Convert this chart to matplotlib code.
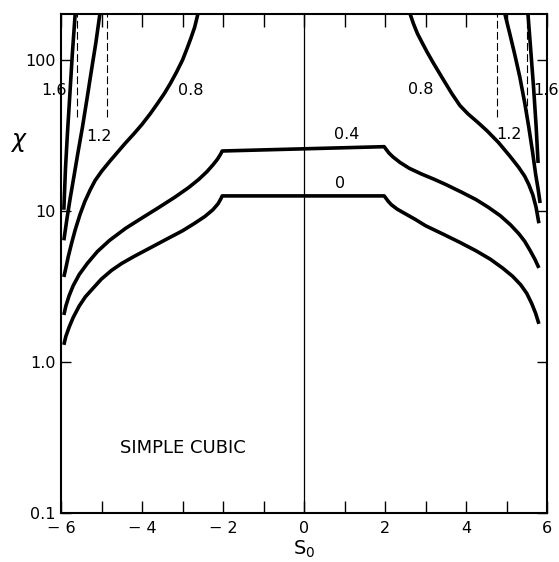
import numpy as np
import matplotlib
matplotlib.use("Agg")
import matplotlib.pyplot as plt

# curve "0" (one piece, flat top between -2 and 2)
s_0 = [-5.93, -5.88, -5.8, -5.7, -5.55, -5.4, -5.2, -5.0, -4.75, -4.5, -4.2, -3.8, -3.4, -3.0, -2.7,
       -2.45, -2.25, -2.12, -2.05, -2.02,
       1.98, 2.02, 2.08, 2.16, 2.3, 2.5, 2.75, 3.0, 3.45, 3.85, 4.25, 4.6, 4.9, 5.15, 5.35, 5.5,
       5.62, 5.72, 5.80]
chi_0 = [1.30, 1.48, 1.70, 1.97, 2.35, 2.7, 3.1, 3.55, 4.05, 4.5, 5.0, 5.7, 6.5, 7.4, 8.3,
         9.2, 10.2, 11.2, 12.1, 12.6,
         12.6, 12.2, 11.6, 11.0, 10.3, 9.6, 8.8, 8.0, 7.0, 6.2, 5.45, 4.8, 4.2, 3.7, 3.25, 2.85,
         2.45, 2.1, 1.79]

# curve "0.4"
s_04 = [-5.93, -5.88, -5.8, -5.7, -5.55, -5.35, -5.1, -4.8, -4.4, -4.0, -3.6, -3.2, -2.85, -2.6,
        -2.4, -2.25, -2.14, -2.06, -2.02,
        1.98, 2.02, 2.1, 2.2, 2.37, 2.6, 2.9, 3.2, 3.5, 3.9, 4.25, 4.55, 4.85, 5.1, 5.3, 5.45,
        5.58, 5.7, 5.80]
chi_04 = [2.05, 2.35, 2.75, 3.2, 3.8, 4.5, 5.4, 6.4, 7.7, 9.0, 10.5, 12.3, 14.3, 16.2,
          18.2, 20.2, 22.0, 23.8, 25.0,
          26.7, 25.8, 24.2, 22.8, 21.0, 19.2, 17.6, 16.3, 15.0, 13.3, 11.9, 10.6, 9.3, 8.1, 7.1, 6.3,
          5.5, 4.8, 4.2]

# curve "0.8" (two branches running off the top)
s_08_left = [-5.93, -5.88, -5.82, -5.74, -5.65, -5.53, -5.41, -5.28, -5.16, -5.0, -4.8, -4.6, -4.42,
             -4.2, -4.0, -3.8, -3.63, -3.45, -3.3, -3.15, -3.0, -2.9, -2.8, -2.7, -2.62]
chi_08_left = [3.66, 4.2, 5.0, 6.1, 7.5, 9.5, 11.6, 13.8, 15.9, 18.3, 21.3, 24.6, 28.0,
               32.5, 37.5, 44, 51, 60, 70, 83, 100, 117, 138, 165, 202]
s_08_right = [2.62, 2.7, 2.8, 2.92, 3.04, 3.2, 3.43, 3.65, 3.85, 4.05, 4.3, 4.52, 4.8, 5.09,
              5.3, 5.45, 5.55, 5.65, 5.73, 5.80]
chi_08_right = [202, 175, 150, 130, 113, 95, 75, 60, 50, 44, 38.5, 34, 28.5, 23,
                19.5, 17, 15, 12.8, 10.6, 8.3]

# curve "1.2"
s_12_left = [-5.04, -5.14, -5.25, -5.36, -5.47, -5.58, -5.68, -5.77, -5.85, -5.93]
chi_12_left = [202, 130, 85, 55, 36, 24.5, 17, 12.3, 9.0, 6.4]
s_12_right = [4.96, 5.08, 5.2, 5.33, 5.45, 5.55, 5.64, 5.72, 5.78, 5.83]
chi_12_right = [202, 150, 110, 77, 52, 36, 25, 17.5, 14, 11.3]

# curve "1.6"
s_16_left = [-5.65, -5.72, -5.78, -5.84, -5.89, -5.93]
chi_16_left = [202, 110, 60, 33, 19, 10.2]
s_16_right = [5.53, 5.6, 5.67, 5.73, 5.78]
chi_16_right = [202, 115, 65, 37, 20.8]

# dashed asymptotes
dash_s = [-5.60, -4.86, 4.77, 5.51]
dash_chi = [42, 202]

# curve labels: text, S0, chi
labels = [("1.6", -6.18, 63), ("1.6", 5.98, 63), ("1.2", -5.06, 31), ("1.2", 5.06, 32),
          ("0.8", -2.79, 63), ("0.8", 2.89, 64), ("0.4", 1.06, 32), ("0", 0.89, 15.3)]

fig = plt.figure(figsize=(5.59, 5.62), dpi=100)
ax = fig.add_axes([61/559, 1 - 513/562, (547 - 61)/559, (513 - 14)/562])

lw = 2.6
curves = [(s_0, chi_0), (s_04, chi_04),
          (s_08_left, chi_08_left), (s_08_right, chi_08_right),
          (s_12_left, chi_12_left), (s_12_right, chi_12_right),
          (s_16_left, chi_16_left), (s_16_right, chi_16_right)]
for s, c in curves:
    ax.plot(s, c, 'k-', lw=lw, solid_joinstyle='round', solid_capstyle='butt')

for x in dash_s:
    ax.plot([x, x], dash_chi, 'k', lw=0.8, dashes=(7, 3))

# thin vertical line at S0 = 0
ax.axvline(0, color='k', lw=0.9)

for txt, x, y in labels:
    ax.text(x, y, txt, fontsize=11.5, ha='center', va='center', clip_on=False)

ax.text(-2.99, 0.27, "SIMPLE CUBIC", fontsize=13, ha='center', va='center')

ax.set_yscale('log')
ax.set_xlim(-6, 6)
ax.set_ylim(0.1, 202)

ax.set_xticks(range(-6, 7))
ax.set_xticklabels([('\u2212 ' + str(-i) if i < 0 else str(i)) if i % 2 == 0 else '' for i in range(-6, 7)])
ax.set_yticks([0.1, 1, 10, 100])
ax.set_yticklabels(['0.1', '1.0', '10', '100'])
ax.yaxis.set_minor_locator(matplotlib.ticker.NullLocator())
ax.tick_params(axis='x', direction='in', length=9, width=1.0, top=True, labelsize=11.5, pad=6)
ax.tick_params(axis='y', direction='in', length=7, width=1.0, right=True, labelsize=11.5, pad=4)

for sp in ax.spines.values():
    sp.set_linewidth(1.5)

ax.set_xlabel(r"S$_0$", fontsize=14, labelpad=2)
ax.set_ylabel("\u03c7", fontsize=17, rotation=0, style='italic', va='center', ha='center')
ax.yaxis.set_label_coords(-0.088, 0.747)

fig.savefig("out.png", dpi=100)
